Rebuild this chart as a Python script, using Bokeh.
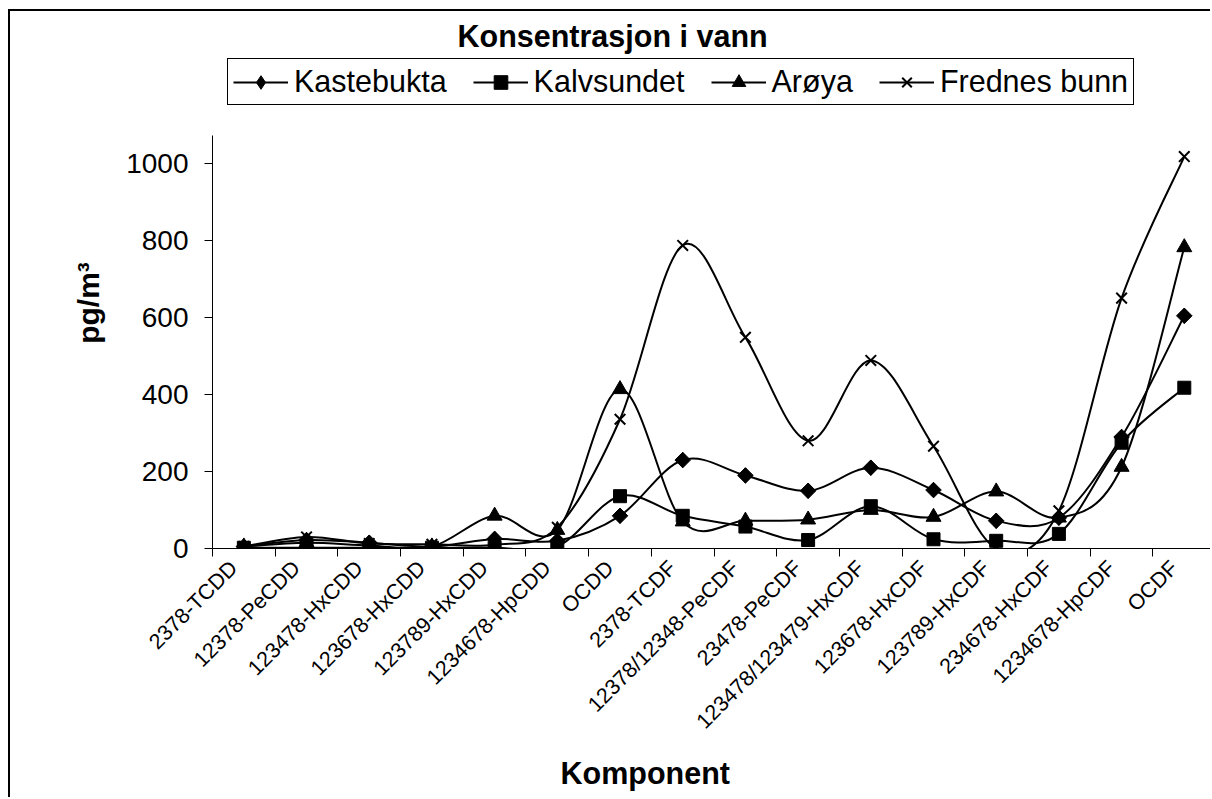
import math
from bokeh.plotting import figure
from bokeh.models import FixedTicker, Legend, LegendItem, Title, ColumnDataSource, Range1d
from bokeh.embed import file_html
from bokeh.resources import INLINE

categories = ["2378-TCDD", "12378-PeCDD", "123478-HxCDD", "123678-HxCDD", "123789-HxCDD",
              "1234678-HpCDD", "OCDD", "2378-TCDF", "12378/12348-PeCDF", "23478-PeCDF",
              "123478/123479-HxCDF", "123678-HxCDF", "123789-HxCDF", "234678-HxCDF",
              "1234678-HpCDF", "OCDF"]
kastebukta = [5, 22, 15, 5, 25, 20, 85, 230, 190, 150, 210, 152, 72, 80, 290, 605]
kalvsundet = [2, 2, 2, 2, 2, 5, 136, 85, 57, 22, 110, 24, 20, 38, 275, 418]
aroya = [5, 15, 8, 5, 85, 48, 414, 70, 72, 75, 100, 82, 148, 80, 212, 783]
frednes = [5, 30, 13, 11, 10, 55, 336, 788, 549, 280, 489, 266, 0, 98, 651, 1019]
series_names = ["Kastebukta", "Kalvsundet", "Arøya", "Frednes bunn"]
y_ticks = [0, 200, 400, 600, 800, 1000]
y_axis_max = 1073

FONT = "Liberation Sans"

PX_PER_UNIT = 0.3854
FRAME_H = 492  # frame from canvas 45 to 537
p = figure(width=1202, height=788, output_backend="svg", toolbar_location=None, title=None,
           x_range=Range1d(-0.5, 15.45), y_range=Range1d(0, FRAME_H / PX_PER_UNIT),
           min_border_left=202, min_border_right=0, min_border_top=45, min_border_bottom=251)
p.styles = {"margin-left": "8px", "margin-top": "9px",
            "border-left": "2px solid black", "border-top": "2px solid black"}
p.outline_line_color = None
p.xgrid.visible = False
p.ygrid.visible = False
p.background_fill_color = "white"
p.border_fill_color = "white"

# x axis (labels slightly left of the category centre, boundary tick marks)
LABEL_SHIFT = 0.16
label_pos = [round(i - LABEL_SHIFT, 4) for i in range(len(categories))]
xa = p.xaxis[0]
xa.ticker = FixedTicker(ticks=label_pos,
                        minor_ticks=[i - 0.5 for i in range(len(categories) + 1)])
xa.major_label_overrides = {pos: c for pos, c in zip(label_pos, categories)}
xa.major_label_orientation = math.pi / 4
xa.major_label_text_font = FONT
xa.major_label_text_font_size = "21.5px"
xa.major_label_text_color = "black"
xa.major_tick_out = 0
xa.major_tick_in = 0
xa.minor_tick_out = 8
xa.minor_tick_in = 0
xa.minor_tick_line_color = "black"
xa.axis_line_color = "black"
xa.major_label_standoff = 8

# y axis
ya = p.yaxis[0]
ya.ticker = FixedTicker(ticks=y_ticks)
ya.bounds = (0, y_axis_max)
ya.major_label_text_font = FONT
ya.major_label_text_font_size = "28px"
ya.major_label_text_color = "black"
ya.major_tick_out = 8
ya.major_tick_in = 0
ya.minor_tick_out = 0
ya.minor_tick_in = 0
ya.major_tick_line_color = "black"
ya.axis_line_color = "black"
ya.major_label_standoff = 16
ya.axis_label = "pg/m³"
ya.axis_label_text_font = FONT
ya.axis_label_text_font_size = "30px"
ya.axis_label_text_font_style = "bold"
ya.axis_label_text_color = "black"
ya.axis_label_standoff = 18


def bezier_source(ys):
    n = len(ys)

    def P(i):
        j = min(max(i, 0), n - 1)
        return float(j), float(ys[j])

    d = dict(x0=[], y0=[], x1=[], y1=[], cx0=[], cy0=[], cx1=[], cy1=[])
    for i in range(n - 1):
        x0, y0 = P(i)
        x1, y1 = P(i + 1)
        xm, ym = P(i - 1)
        x2, y2 = P(i + 2)
        d["x0"].append(x0); d["y0"].append(y0)
        d["x1"].append(x1); d["y1"].append(y1)
        d["cx0"].append(x0 + (x1 - xm) / 6); d["cy0"].append(y0 + (y1 - ym) / 6)
        d["cx1"].append(x1 - (x2 - x0) / 6); d["cy1"].append(y1 - (y2 - y0) / 6)
    return ColumnDataSource(d)


xs = list(range(len(categories)))
all_series = [kastebukta, kalvsundet, aroya, frednes]
# (legend marker spec, optional overlay spec drawn on top but not in legend)
marker_specs = [
    (dict(marker="diamond", size=15, fill_color="black", line_color="black"),
     dict(marker="square", size=11, angle=math.pi / 4, fill_color="black", line_color="black")),
    (dict(marker="square", size=13, fill_color="black", line_color="black"), None),
    (dict(marker="triangle", size=15, fill_color="black", line_color="black"), None),
    (dict(marker="x", size=15, line_color="black", line_width=2), None),
]

items = []
for name, ys, (ms, overlay) in zip(series_names, all_series, marker_specs):
    src = bezier_source(ys)
    br = p.bezier(x0="x0", y0="y0", x1="x1", y1="y1", cx0="cx0", cy0="cy0", cx1="cx1", cy1="cy1",
                  source=src, line_color="black", line_width=2)
    sr = p.scatter(xs, ys, **ms)
    if overlay is not None:
        p.scatter(xs, ys, **overlay)
    items.append(LegendItem(label=name, renderers=[br, sr]))

legend = Legend(items=items, orientation="horizontal", location=(15, 443),
                border_line_color="black", border_line_width=1, border_line_alpha=1,
                label_text_font=FONT, label_text_font_size="30.5px", label_text_color="black",
                glyph_width=55, glyph_height=34, label_standoff=6, spacing=26, padding=5,
                margin=0, background_fill_color="white", background_fill_alpha=1)
p.add_layout(legend, "center")

title = Title(text="Konsentrasjon i vann", align="left", offset=245, text_font=FONT,
              text_font_size="30.5px", text_font_style="bold", text_color="black", standoff=10)
p.add_layout(title, "above")

xlabel = Title(text="Komponent", align="left", offset=348, text_font=FONT,
               text_font_size="30.5px", text_font_style="bold", text_color="black", standoff=17)
p.add_layout(xlabel, "below")

open("out.html", "w").write(file_html(p, INLINE))
